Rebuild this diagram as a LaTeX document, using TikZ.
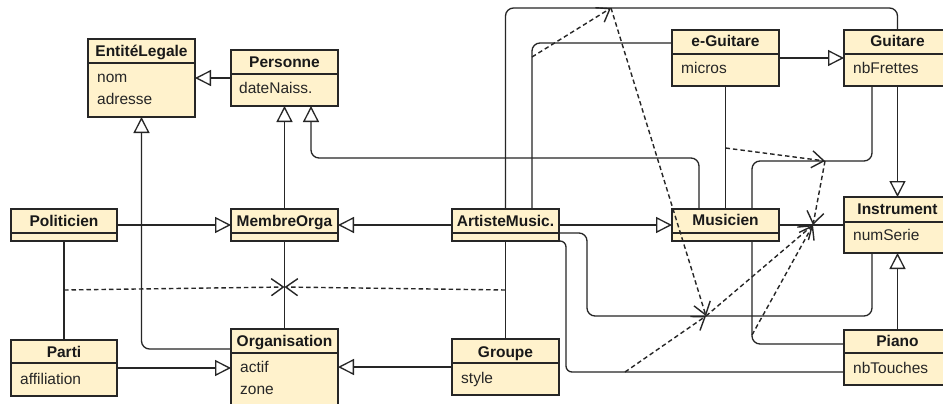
\documentclass[tikz,border=0pt]{standalone}
\usepackage{fontspec}
\setmainfont{Liberation Sans}
\usetikzlibrary{arrows.meta}
\definecolor{clsfill}{HTML}{FFF2CC}
\definecolor{ink}{HTML}{262626}
\tikzset{
  cls/.style={draw=ink, fill=clsfill, line width=1.3pt, inner sep=0pt, outer sep=0pt},
  sepline/.style={draw=ink, line width=1.2pt},
  ttl/.style={anchor=base, inner sep=0pt, font=\bfseries\fontsize{15.5}{18}\selectfont, text=black!90},
  att/.style={anchor=base west, inner sep=0pt, font=\fontsize{15.5}{18}\selectfont, text=black!85},
  conn/.style={draw=ink, line width=1.3pt, rounded corners=8pt},
  gen/.style={conn, -{Triangle[length=16pt, width=16pt, open, fill=white]}},
  dep/.style={draw=ink, line width=1.4pt, dash pattern=on 4.5pt off 3pt, -{Straight Barb[length=12pt, width=17pt]}},
}
\newcommand\klass[8]{%
  \node[cls, minimum width={(#4-#2)*1pt}, minimum height={(#5-#3)*1pt}, anchor=north west] (#1) at (#2,#3) {};
  \draw[sepline] (#2,#6) -- (#4,#6);
  \node[ttl] (#1-t) at ({(#2+#4)/2},#8) {#7};
}
\newcommand\attr[4]{\node[att] (#1) at (#2,#3) {#4};}
\begin{document}
\begin{tikzpicture}[x=1pt, y=-1pt]
\fill[white] (0,0) rectangle (943,404);
\useasboundingbox (0,0) rectangle (943,404);
\clip (0,0) rectangle (943,404);

% classes
\klass{ent}{88}{39}{195}{117}{63}{EntitéLegale}{57}
\attr{ent-a1}{97}{83}{nom}
\attr{ent-a2}{97}{104}{adresse}
\klass{pers}{231}{50}{338}{106}{74}{Personne}{67}
\attr{pers-a1}{239}{94}{dateNaiss.}
\klass{egt}{672}{30}{779}{86}{54}{e-Guitare}{47}
\attr{egt-a1}{681}{74}{micros}
\klass{gui}{844}{30}{951}{86}{54}{Guitare}{47}
\attr{gui-a1}{853}{74}{nbFrettes}
\klass{pol}{11}{209}{117}{241}{233}{Politicien}{226}
\klass{mem}{231}{209}{338}{241}{233}{MembreOrga}{226}
\klass{art}{452}{209}{559}{241}{233}{ArtisteMusic.}{226}
\klass{mus}{672}{209}{779}{241}{233}{Musicien}{225}
\klass{ins}{844}{197}{951}{253}{222}{Instrument}{214}
\attr{ins-a1}{853}{240}{numSerie}
\klass{par}{11}{340}{117}{396}{363}{Parti}{357}
\attr{par-a1}{20}{384}{affiliation}
\klass{org}{231}{329}{338}{412}{353}{Organisation}{346}
\attr{org-a1}{240}{372}{actif}
\attr{org-a2}{240}{394}{zone}
\klass{grp}{452}{339}{559}{395}{363}{Groupe}{357}
\attr{grp-a1}{461}{383}{style}
\klass{pia}{844}{330}{951}{385}{353}{Piano}{346}
\attr{pia-a1}{853}{373}{nbTouches}

% generalizations
\draw[gen] (pers.west) -- (ent.east);
\draw[gen] (mem.north) -- (pers.south);
\draw[gen] ([xshift=-26.5pt]mus.north) |- ([xshift=26.5pt,yshift=-52pt]pers.south) -- ([xshift=26.5pt]pers.south);
\draw[gen] ([yshift=-20pt]org.north west) -| (ent.south);
\draw[gen] (pol.east) -- (mem.west);
\draw[gen] (art.west) -- (mem.east);
\draw[gen] (par.east) -- (org.west |- par.east);
\draw[gen] (grp.west) -- (org.east |- grp.west);
\draw[gen] (egt.east) -- (gui.west);
\draw[gen] (gui.south) -- (ins.north);
\draw[gen] (art.east) -- (mus.west);
\draw[gen] (pia.north) -- (ins.south);

% associations
\draw[conn] (mem.south) -- (org.north);
\draw[conn] (pol.south) -- (par.north);
\draw[conn] (art.south) -- (grp.north);
\draw[conn] (art.north) |- ([yshift=22pt]gui.north) -- (gui.north);
\draw[conn] ([xshift=26.5pt]art.north) |- ([yshift=-13pt]egt.north west);
\draw[conn] (egt.south) -- (mus.north);
\draw[conn] ([xshift=26.5pt]mus.north) |- ([xshift=-25.5pt,yshift=-75pt]gui.south) -- ([xshift=-25.5pt]gui.south);
\draw[conn] (mus.east) -- (ins.west);
\draw[conn] ([yshift=-8pt]art.east) -- ++(28,0) |- ([xshift=-25.5pt,yshift=-63pt]ins.south) -- ([xshift=-25.5pt]ins.south);
\draw[conn, rounded corners=6pt] (art.south east) -- ++(7,0) |- ([yshift=-14.5pt]pia.west);
\draw[conn] ([xshift=26.5pt]mus.south) |- ([yshift=13.5pt]pia.west);

% association-class links
\coordinate (j1) at (64,290);
\coordinate (k1) at (284.5,287);
\coordinate (j2) at (505.5,290);
\coordinate (j3) at (532,57);
\coordinate (k3) at (611,8);
\coordinate (k4) at (706,316);
\coordinate (j5) at (625,372);
\coordinate (k6) at (813,225);
\coordinate (j7) at (752,335);
\coordinate (j8) at (725.5,148);
\coordinate (k8) at (825,161);
\draw[dep] (j1) -- (k1);
\draw[dep] (j2) -- (k1);
\draw[dep] (j3) -- (k3);
\draw[dep] (k3) -- (k4);
\draw[dep] (j5) -- (k4);
\draw[dep] (k4) -- (k6);
\draw[dep] (j7) -- (k6);
\draw[dep] (j8) -- (k8);
\draw[dep] (k8) -- (k6);
\end{tikzpicture}
\end{document}
